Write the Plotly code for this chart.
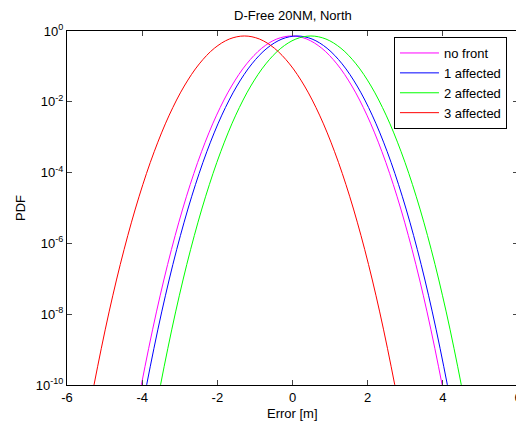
import plotly.graph_objects as go

# PDF values (same shape for every curve)
pdf_values = [1.82e-12, 1.02e-10, 1.16e-8, 6.79e-7, 2.15e-5, 3.89e-4, 4.20e-3,
              2.79e-2, 0.118, 0.325, 0.593, 0.724, 0.593, 0.325, 0.118, 2.79e-2,
              4.20e-3, 3.89e-4, 2.15e-5, 6.79e-7, 1.16e-8, 1.02e-10, 1.82e-12]

x_no_front = [-4.32, -4.02, -3.62, -3.22, -2.82, -2.42, -2.02, -1.62, -1.22, -0.82, -0.42, -0.02,
              0.38, 0.78, 1.18, 1.58, 1.98, 2.38, 2.78, 3.18, 3.58, 3.98, 4.28]
x_1_affected = [-4.18, -3.88, -3.48, -3.08, -2.68, -2.28, -1.88, -1.48, -1.08, -0.68, -0.28, 0.12,
                0.52, 0.92, 1.32, 1.72, 2.12, 2.52, 2.92, 3.32, 3.72, 4.12, 4.42]
x_2_affected = [-3.81, -3.51, -3.11, -2.71, -2.31, -1.91, -1.51, -1.11, -0.71, -0.31, 0.09, 0.49,
                0.89, 1.29, 1.69, 2.09, 2.49, 2.89, 3.29, 3.69, 4.09, 4.49, 4.79]
x_3_affected = [-5.58, -5.28, -4.88, -4.48, -4.08, -3.68, -3.28, -2.88, -2.48, -2.08, -1.68, -1.28,
                -0.88, -0.48, -0.08, 0.32, 0.72, 1.12, 1.52, 1.92, 2.32, 2.72, 3.02]

series_names = ["no front", "1 affected", "2 affected", "3 affected"]
series_x = [x_no_front, x_1_affected, x_2_affected, x_3_affected]
series_colors = ["#ff00ff", "#0000ff", "#00ff00", "#ff0000"]

x_ticks = [-6, -4, -2, 0, 2, 4, 6]
x_tick_text = ["-6", "-4", "-2", "0", "2", "4", "6"]
y_tick_vals = [1e-10, 1e-8, 1e-6, 1e-4, 1e-2, 1]
y_tick_text = ["10<sup>-10</sup>", "10<sup>-8</sup>", "10<sup>-6</sup>",
               "10<sup>-4</sup>", "10<sup>-2</sup>", "10<sup>0</sup>"]

fig = go.Figure()
for name, xs, col in zip(series_names, series_x, series_colors):
    fig.add_trace(go.Scatter(x=xs, y=pdf_values, mode="lines", name=name,
                             line=dict(color=col, width=1, shape="spline", smoothing=1.0)))

# the page body adds an 8px offset, so the figure is 8px smaller than the window
font_family = "Liberation Sans, Arial, sans-serif"
W, H = 516, 415
L, R, T, B = 59, 6, 23, 38
FS = 13
fig.update_layout(
    width=W, height=H,
    paper_bgcolor="white", plot_bgcolor="white",
    margin=dict(l=L, r=R, t=T, b=B, autoexpand=False),
    font=dict(family=font_family, size=FS, color="black"),
    showlegend=True,
    legend=dict(x=0.725, y=0.983, xanchor="left", yanchor="top",
                bgcolor="white", bordercolor="black", borderwidth=1,
                font=dict(size=FS), tracegroupgap=0, itemwidth=39),
)
fig.update_xaxes(range=[-6, 6], tickvals=x_ticks, ticktext=x_tick_text,
                 ticks="inside", ticklen=5, automargin=False,
                 showline=True, linecolor="black", linewidth=1, mirror="ticks",
                 showgrid=False, zeroline=False, tickfont=dict(size=FS))
fig.update_yaxes(type="log", range=[-10, 0], tickvals=y_tick_vals, ticktext=y_tick_text,
                 ticks="inside", ticklen=5, automargin=False,
                 showline=True, linecolor="black", linewidth=1, mirror="ticks",
                 showgrid=False, zeroline=False, tickfont=dict(size=FS))

fig.add_annotation(text="D-Free 20NM, North", xref="paper", yref="paper",
                   x=0.5, y=1, yshift=16, xanchor="center", yanchor="middle",
                   showarrow=False, font=dict(size=FS))
fig.add_annotation(text="Error [m]", xref="paper", yref="paper",
                   x=0.5, y=0, yshift=-28, xanchor="center", yanchor="middle",
                   showarrow=False, font=dict(size=FS))
fig.add_annotation(text="PDF", xref="paper", yref="paper", textangle=-90,
                   x=0, y=0.5, xshift=-47, xanchor="center", yanchor="middle",
                   showarrow=False, font=dict(size=FS))

fig.write_html("out.html")
